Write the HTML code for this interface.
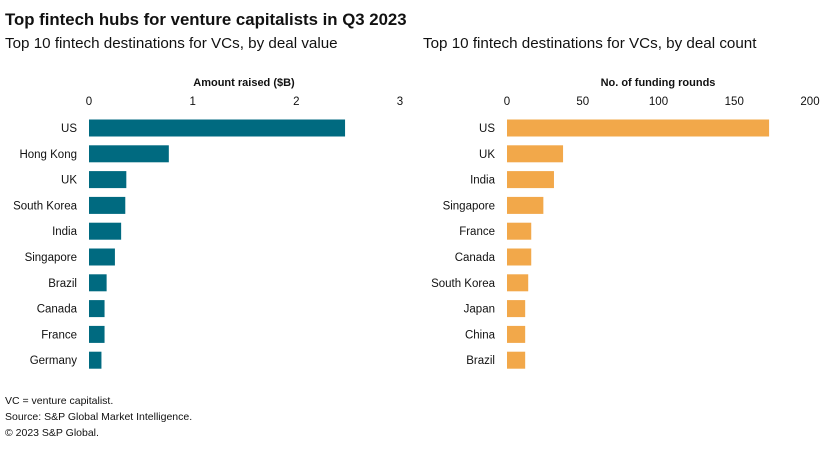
<!DOCTYPE html>
<html><head><meta charset="utf-8"><style>
body{margin:0;background:#fff;font-family:"Liberation Sans",sans-serif;}
svg text{font-family:"Liberation Sans",sans-serif;fill:#111;}
</style></head><body>
<svg width="836" height="450" xmlns="http://www.w3.org/2000/svg">
<text x="5" y="25" font-size="16.8" font-weight="bold">Top fintech hubs for venture capitalists in Q3 2023</text>
<text x="5" y="48" font-size="15.2">Top 10 fintech destinations for VCs, by deal value</text>
<text x="423" y="48" font-size="15.2">Top 10 fintech destinations for VCs, by deal count</text>
<text x="244" y="86" font-size="11" font-weight="bold" text-anchor="middle">Amount raised ($B)</text>
<text x="658" y="86" font-size="11" font-weight="bold" text-anchor="middle">No. of funding rounds</text>
<g id="left"></g><g id="right"></g>
<text x="5" y="404" font-size="10.5">VC = venture capitalist.</text>
<text x="5" y="420" font-size="10.5">Source: S&amp;P Global Market Intelligence.</text>
<text x="5" y="436" font-size="10.5">© 2023 S&amp;P Global.</text>
</svg>
<script>
const leftCats=["US","Hong Kong","UK","South Korea","India","Singapore","Brazil","Canada","France","Germany"];
const leftVals=[2.47,0.77,0.36,0.35,0.31,0.25,0.17,0.15,0.15,0.12];
const leftTicks=[0,1,2,3];
const rightCats=["US","UK","India","Singapore","France","Canada","South Korea","Japan","China","Brazil"];
const rightVals=[173,37,31,24,16,16,14,12,12,12];
const rightTicks=[0,50,100,150,200];
const NS="http://www.w3.org/2000/svg";
function draw(gid,cats,vals,ticks,x0,x1,color,prefix){
  const g=document.getElementById(gid);
  const max=ticks[ticks.length-1];
  const sx=v=>x0+(x1-x0)*v/max;
  const sy=i=>128+i*25.8;
  ticks.forEach(t=>{
    const tx=document.createElementNS(NS,'text');
    tx.setAttribute('x',sx(t));tx.setAttribute('y',105);tx.setAttribute('font-size','11.5');tx.setAttribute('text-anchor','middle');
    tx.textContent=t;
    
    
    g.appendChild(tx);
  });
  cats.forEach((c,i)=>{
    const r=document.createElementNS(NS,'rect');
    r.setAttribute('x',x0);r.setAttribute('y',sy(i)-8.5);r.setAttribute('height',17);
    r.setAttribute('width',sx(vals[i])-x0);r.setAttribute('fill',color);
    
    
    g.appendChild(r);
    const t=document.createElementNS(NS,'text');
    t.setAttribute('x',x0-12);t.setAttribute('y',sy(i)+4);t.setAttribute('font-size','11.5');t.setAttribute('text-anchor','end');
    t.textContent=c;
    
    
    g.appendChild(t);
  });
}
draw('left',leftCats,leftVals,leftTicks,89,400,'#006a80','left');
draw('right',rightCats,rightVals,rightTicks,507,810,'#f2a84a','right');
</script>
</body></html>
